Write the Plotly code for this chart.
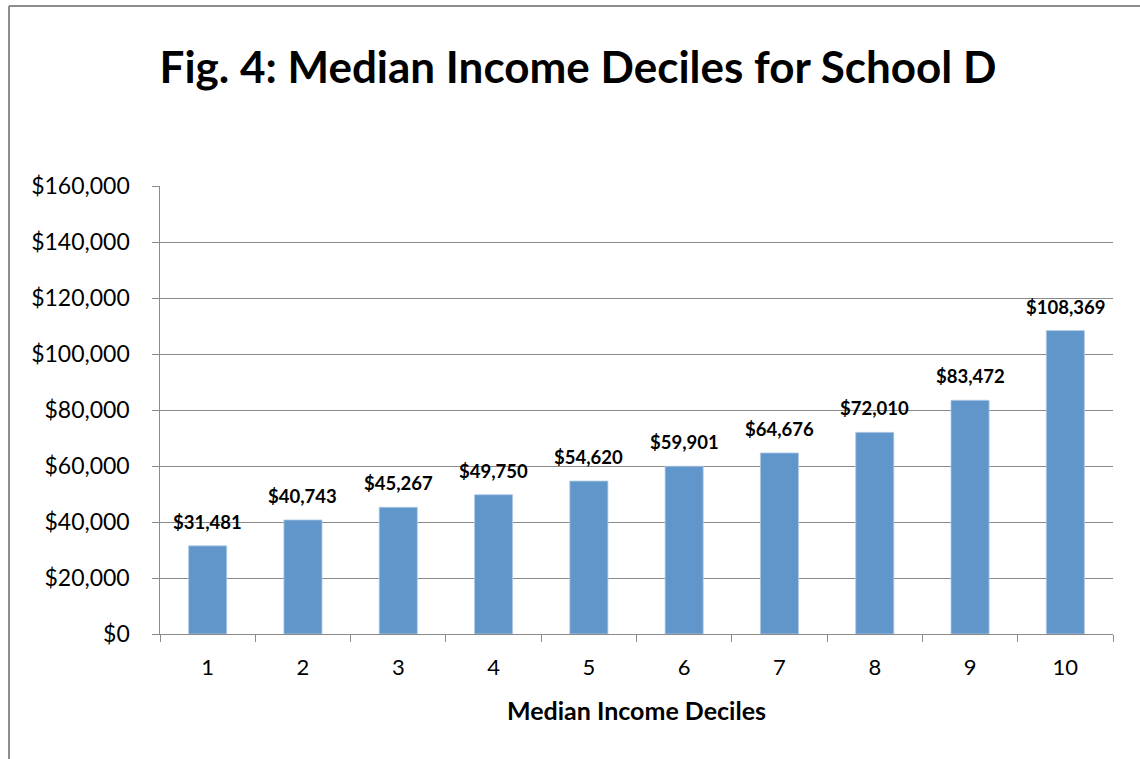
import plotly.graph_objects as go

# Median household income by decile
deciles = ["1", "2", "3", "4", "5", "6", "7", "8", "9", "10"]
median_income = [31481, 40743, 45267, 49750, 54620, 59901, 64676, 72010, 83472, 108369]

title_text = "Fig. 4: Median Income Deciles for School D"
x_title = "Median Income Deciles"

FONT = "Lato"
GRID = "#8a8a8a"
BAR = "#6196cb"

W, H = 1140, 759
ML, MR, MT, MB = 160, 27, 186, 125
plot_w = W - ML - MR
plot_h = H - MT - MB

fig = go.Figure()
fig.add_trace(go.Bar(
    x=deciles,
    y=median_income,
    width=0.4,
    marker=dict(color=BAR, line=dict(color="#b4cbe6", width=0.8)),
    hoverinfo="skip",
))

# value labels above each bar (category axis positions are indices)
for i, v in enumerate(median_income):
    fig.add_annotation(
        x=i, y=v, text=f"<b>${v:,}</b>", showarrow=False,
        yanchor="bottom", yshift=11,
        font=dict(family=FONT, size=18.5, color="#000000"),
    )

# outer chart frame (left and top edges)
bx = (9 - ML) / plot_w
by = (H - MB - 6) / plot_h
fig.add_shape(type="line", xref="paper", yref="paper", x0=bx, x1=1.2, y0=by, y1=by,
              line=dict(color="#8c8c8c", width=2))
fig.add_shape(type="line", xref="paper", yref="paper", x0=bx, x1=bx, y0=by, y1=-0.5,
              line=dict(color="#8c8c8c", width=2))

fig.update_layout(
    width=W, height=H,
    margin=dict(l=ML, r=MR, t=MT, b=MB),
    paper_bgcolor="white", plot_bgcolor="white",
    showlegend=False,
    title=dict(
        text=f"<b>{title_text}</b>", x=0.507, xanchor="center",
        y=1 - 68 / H, yanchor="middle",
        font=dict(family=FONT, size=44, color="#000000"),
    ),
    font=dict(family=FONT, color="#000000"),
)

fig.update_xaxes(
    type="category",
    range=[-0.5, 9.5],
    tickson="boundaries",
    ticks="outside", ticklen=7, tickcolor=GRID, tickwidth=1,
    ticklabelstandoff=14,
    showline=True, linecolor=GRID, linewidth=1,
    showgrid=False,
    tickfont=dict(family=FONT, size=22),
    title=dict(text=f"<b>{x_title}</b>", font=dict(family=FONT, size=25), standoff=23),
)

fig.update_yaxes(
    range=[0, 160000], dtick=20000,
    tickprefix="$", tickformat=",d", ticksuffix="\u00a0" * 3,
    ticks="outside", ticklen=7, tickcolor=GRID, tickwidth=1,
    showline=True, linecolor=GRID, linewidth=1,
    showgrid=True, gridcolor=GRID, gridwidth=1,
    zeroline=False,
    tickfont=dict(family=FONT, size=23),
)

fig.write_html("out.html")
